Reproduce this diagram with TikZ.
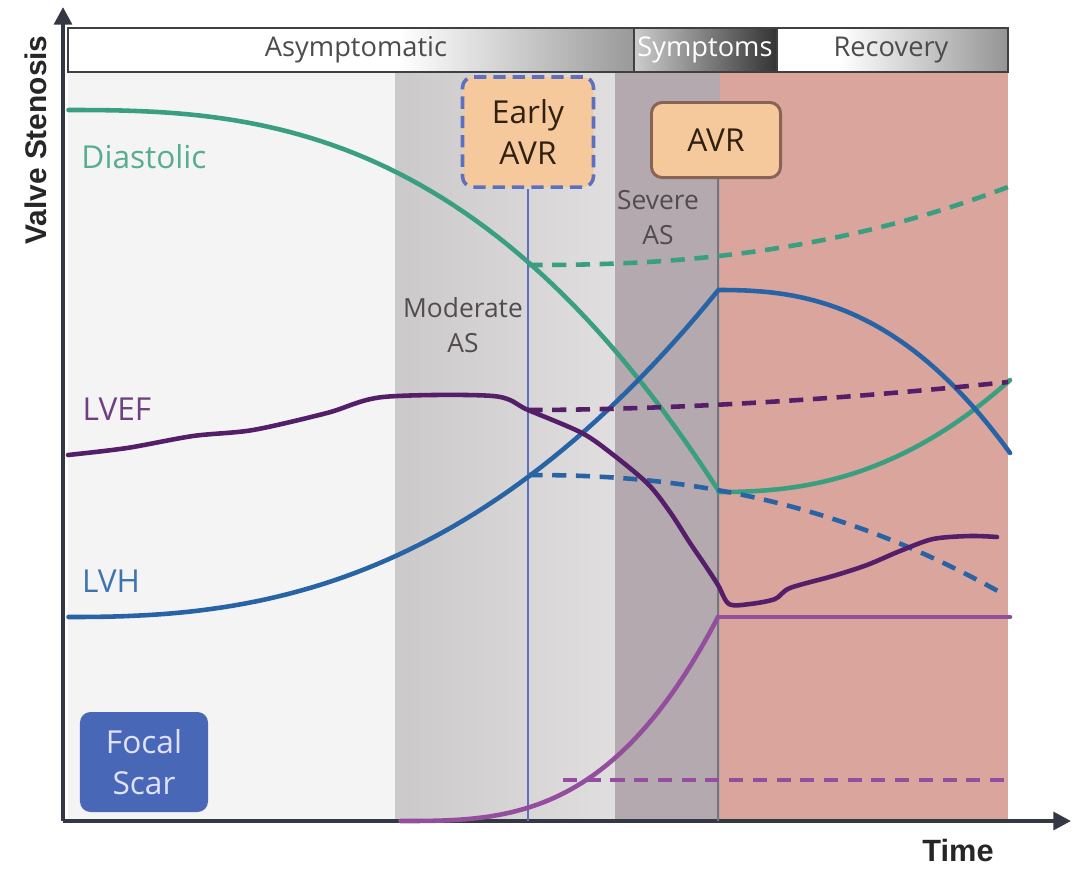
\documentclass[tikz,border=0pt]{standalone}
\usepackage{fontspec}
\setmainfont{Open Sans}
\newfontfamily\axisfont{Liberation Sans}
\usetikzlibrary{arrows.meta,positioning}

\definecolor{diagreen}{RGB}{58,158,128}
\definecolor{lvhblue}{RGB}{40,100,165}
\definecolor{lvefpurple}{RGB}{85,30,105}
\definecolor{scarpurple}{RGB}{148,78,158}
\definecolor{earlyblue}{RGB}{92,112,190}
\definecolor{avrgray}{RGB}{125,112,118}
\definecolor{boxorange}{RGB}{246,201,156}
\definecolor{boxbrown}{RGB}{135,100,85}
\definecolor{scarbox}{RGB}{72,104,183}
\definecolor{axisgray}{RGB}{52,56,68}
\definecolor{bandtext}{RGB}{82,76,80}
\definecolor{recpink}{RGB}{217,165,157}
\definecolor{severegray}{RGB}{179,169,174}
\definecolor{plainbg}{RGB}{245,244,245}

\tikzset{
  curve/.style={line width=2.6pt, line cap=round, line join=round},
  trend/.style={line width=2.6pt, line cap=butt, dash pattern=on 8pt off 5.5pt},
  axisline/.style={line width=2.3pt, draw=axisgray, -{Triangle[length=10pt,width=10pt]}},
  barlabel/.style={font=\fontsize{15.5}{18}\selectfont, text=black!70},
  bandlabel/.style={font=\fontsize{15}{20}\selectfont, text=bandtext, align=center},
  curvelabel/.style={font=\fontsize{18}{21}\selectfont},
  avrbox/.style={draw=boxbrown, line width=1.7pt, fill=boxorange, rounded corners=6pt,
    text=black!75!brown, align=center, font=\fontsize{18}{23}\selectfont},
}

\begin{document}
\begin{tikzpicture}[x=0.2mm, y=-0.2mm]
\useasboundingbox (0,0) rectangle (1072,871);
\fill[white] (0,0) rectangle (1072,871);

% phases of the disease
\fill[plainbg] (68,72) rectangle (395,821);
\shade[left color={rgb,255:red,204;green,201;blue,202}, right color={rgb,255:red,225;green,222;blue,223}] (395,72) rectangle (615,821);
\fill[severegray] (615,72) rectangle (720,821);
\fill[recpink] (720,72) rectangle (1008,821);

% top bar
\fill[white] (68,28) rectangle (400,72);
\shade[left color=white, right color=black!40] (400,28) rectangle (634,72);
\shade[left color=black!20, right color=black!80] (634,28) rectangle (777,72);
\fill[white] (777,28) rectangle (840,72);
\shade[left color=white, right color=black!42] (840,28) rectangle (1008,72);
\draw[black!75, line width=1.3pt] (68,28) rectangle (1008,72);
\draw[black!75, line width=1.3pt] (634,28) -- (634,72) (777,28) -- (777,72);
\node[barlabel] (asym) at (356,50) {Asymptomatic};
\node[barlabel, text=white] (sympt) at (705,50) {Symptoms};
\node[barlabel] (recov) at (891,50) {Recovery};

% axes
\coordinate (origin) at (63,821);
\draw[axisline] (origin) -- (63,7);
\draw[axisline] (origin) -- (1071,821);
\node[rotate=90, font=\axisfont\bfseries\fontsize{17}{20}\selectfont, text=black!85] (stenosis) at (36,140) {Valve Stenosis};
\node[font=\axisfont\bfseries\fontsize{17.5}{20}\selectfont, text=black!85] (time) at (958,850) {Time};

% replacement boxes
\node[avrbox, draw=earlyblue, line width=2pt, dash pattern=on 7pt off 4pt, minimum width=26.2mm, minimum height=22mm] (early) at (528,132) {Early\\AVR};
\node[avrbox, minimum width=25.8mm, minimum height=15mm] (avr) at (716,140) {AVR};
\draw[earlyblue, line width=1.5pt] (early.south) -- (early.south |- origin);
\draw[avrgray, line width=1.6pt] (avr.south -| 718,0) -- (718,821);

\node[bandlabel] (moderate) at (463,325) {Moderate\\AS};
\node[bandlabel] (severe) at (658,218) {Severe\\AS};

% diastolic function
\draw[curve, diagreen] plot[domain=68.5:718, samples=60] (\x,{110+152*((\x-68)/460)^2.65});
\draw[curve, diagreen] plot[domain=718.5:1010, samples=40] (\x,{492-112*((\x-718)/292)^2.34});
\draw[trend, diagreen] plot[domain=528.5:1008, samples=50] (\x,{265-78*((\x-528)/480)^2.34});

% hypertrophy
\draw[curve, lvhblue] plot[domain=68.5:718, samples=60] (\x,{617-140*((\x-68)/460)^2.45});
\draw[curve, lvhblue] plot[domain=718.5:1010, samples=40] (\x,{290+163*((\x-718)/292)^2.47});
\draw[trend, lvhblue] plot[domain=528.5:1005, samples=50] (\x,{475+120*((\x-528)/477)^2.25});

% ejection fraction
\draw[curve, lvefpurple] plot[smooth, tension=0.5] coordinates {(68,455) (127,448) (193,436) (253,430) (327,413) (383,397) (493,396) (528,410) (580,432) (607,450) (647,483) (670,512) (690,543) (705,565) (718,585) (729,604) (750,604) (775,599) (790,588) (833,576) (867,565) (900,551) (933,539) (970,536) (997,537)};
\draw[trend, lvefpurple] plot[domain=528.5:1008, samples=40] (\x,{410-28*((\x-528)/480)^1.8});

% focal scar
\draw[curve, scarpurple] plot[domain=400.5:718, samples=50] (\x,{821-204*((\x-400)/318)^3});
\draw[curve, scarpurple] (718,617) -- (1010,617);
\draw[trend, scarpurple] (563,780) -- (1008,780);

% curve labels
\node[curvelabel, text=diagreen!85!white] (diast) at (144,157) {Diastolic};
\node[curvelabel, text=lvefpurple!85!white] (lvef) at (117,409) {LVEF};
\node[curvelabel, text=lvhblue!90!white] (lvh) at (111,581) {LVH};
\node[fill=scarbox, rounded corners=6pt, minimum width=25.6mm, minimum height=20mm, align=center,
  text=white!88!blue, font=\fontsize{18}{23}\selectfont] (scar) at (144,762) {Focal\\Scar};
\end{tikzpicture}
\end{document}
